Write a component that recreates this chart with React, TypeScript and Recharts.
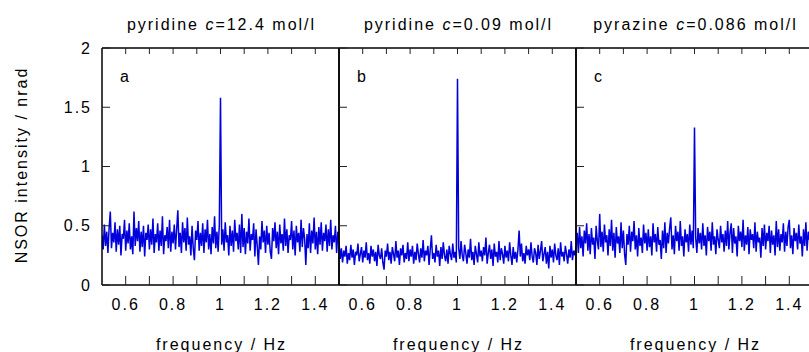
import React from "react";
import { LineChart, Line, XAxis, YAxis } from "recharts";

// NSOR spectra, intensity in nrad, sampled every 0.005 Hz from 0.5 Hz
const FREQ_START = 0.5;
const FREQ_STEP = 0.005;

const intensityA = [
    0.42, 0.30, 0.51, 0.33, 0.45, 0.27, 0.48, 0.62, 0.31, 0.44, 0.36, 0.53, 0.28, 0.47, 0.34, 0.50, 0.25, 0.43, 0.39, 0.55,
    0.29, 0.46, 0.35, 0.52, 0.30, 0.41, 0.26, 0.62, 0.33, 0.48, 0.37, 0.54, 0.28, 0.45, 0.32, 0.50, 0.24, 0.44, 0.38, 0.51,
    0.30, 0.47, 0.34, 0.56, 0.27, 0.43, 0.36, 0.52, 0.29, 0.46, 0.33, 0.58, 0.26, 0.42, 0.37, 0.49, 0.31, 0.55, 0.28, 0.45,
    0.35, 0.51, 0.30, 0.47, 0.63, 0.32, 0.44, 0.27, 0.53, 0.36, 0.48, 0.29, 0.57, 0.34, 0.41, 0.25, 0.50, 0.31, 0.21, 0.46,
    0.38, 0.54, 0.29, 0.44, 0.33, 0.52, 0.27, 0.47, 0.36, 0.55, 0.30, 0.43, 0.26, 0.49, 0.35, 0.58, 0.31, 0.45, 0.28, 0.51,
    1.58,
    0.34, 0.47, 0.29, 0.53, 0.36, 0.42, 0.25, 0.50, 0.33, 0.46, 0.28, 0.55, 0.37, 0.44, 0.30, 0.51, 0.27, 0.60, 0.32, 0.48,
    0.26, 0.45, 0.35, 0.56, 0.29, 0.43, 0.38, 0.52, 0.24, 0.47, 0.33, 0.17, 0.41, 0.30, 0.54, 0.36, 0.46, 0.27, 0.50, 0.34,
    0.44, 0.28, 0.22, 0.48, 0.37, 0.53, 0.31, 0.45, 0.26, 0.51, 0.35, 0.43, 0.29, 0.56, 0.33, 0.47, 0.27, 0.42, 0.38, 0.54,
    0.30, 0.46, 0.25, 0.50, 0.36, 0.44, 0.28, 0.55, 0.32, 0.48, 0.39, 0.17, 0.43, 0.31, 0.52, 0.27, 0.46, 0.35, 0.57, 0.30,
    0.45, 0.26, 0.49, 0.34, 0.53, 0.29, 0.44, 0.37, 0.51, 0.28, 0.47, 0.33, 0.55, 0.30, 0.42, 0.36, 0.50, 0.27, 0.45, 0.39,
];

const intensityB = [
    0.36, 0.22, 0.31, 0.19, 0.29, 0.24, 0.33, 0.18, 0.27, 0.21, 0.34, 0.23, 0.30, 0.17, 0.28, 0.25, 0.35, 0.20, 0.26, 0.32,
    0.19, 0.29, 0.23, 0.36, 0.21, 0.27, 0.18, 0.33, 0.24, 0.30, 0.20, 0.28, 0.16, 0.34, 0.25, 0.22, 0.31, 0.19, 0.13, 0.29,
    0.24, 0.35, 0.21, 0.28, 0.18, 0.32, 0.26, 0.20, 0.37, 0.23, 0.29, 0.17, 0.31, 0.25, 0.34, 0.19, 0.27, 0.22, 0.36, 0.20,
    0.30, 0.24, 0.33, 0.18, 0.28, 0.21, 0.35, 0.26, 0.19, 0.31, 0.23, 0.38, 0.20, 0.29, 0.25, 0.33, 0.17, 0.30, 0.42, 0.22,
    0.27, 0.19, 0.34, 0.24, 0.29, 0.16, 0.32, 0.22, 0.36, 0.25, 0.20, 0.30, 0.18, 0.33, 0.26, 0.21, 0.35, 0.23, 0.28, 0.19,
    1.74,
    0.31, 0.22, 0.37, 0.25, 0.20, 0.34, 0.27, 0.18, 0.30, 0.23, 0.39, 0.21, 0.28, 0.17, 0.33, 0.26, 0.19, 0.36, 0.24, 0.29,
    0.20, 0.32, 0.25, 0.40, 0.18, 0.27, 0.34, 0.22, 0.30, 0.16, 0.35, 0.24, 0.28, 0.19, 0.37, 0.21, 0.31, 0.26, 0.18, 0.33,
    0.23, 0.29, 0.20, 0.36, 0.25, 0.17, 0.32, 0.22, 0.28, 0.19, 0.30, 0.46, 0.24, 0.35, 0.20, 0.27, 0.18, 0.33, 0.25, 0.30,
    0.21, 0.36, 0.24, 0.19, 0.31, 0.27, 0.17, 0.34, 0.22, 0.29, 0.37, 0.20, 0.26, 0.32, 0.18, 0.28, 0.14, 0.33, 0.23, 0.30,
    0.19, 0.35, 0.25, 0.21, 0.31, 0.17, 0.36, 0.24, 0.28, 0.20, 0.33, 0.26, 0.18, 0.30, 0.23, 0.37, 0.21, 0.29, 0.25, 0.32,
];

const intensityC = [
    0.33, 0.44, 0.27, 0.49, 0.31, 0.41, 0.24, 0.46, 0.35, 0.52, 0.29, 0.43, 0.26, 0.48, 0.34, 0.40, 0.22, 0.50, 0.37, 0.30,
    0.60, 0.32, 0.45, 0.28, 0.51, 0.36, 0.42, 0.25, 0.47, 0.33, 0.55, 0.29, 0.44, 0.23, 0.49, 0.35, 0.41, 0.27, 0.53, 0.31,
    0.46, 0.26, 0.17, 0.43, 0.34, 0.50, 0.28, 0.45, 0.37, 0.54, 0.30, 0.42, 0.24, 0.48, 0.33, 0.40, 0.27, 0.51, 0.35, 0.44,
    0.29, 0.47, 0.32, 0.41, 0.25, 0.52, 0.36, 0.43, 0.28, 0.49, 0.34, 0.38, 0.22, 0.46, 0.31, 0.53, 0.27, 0.44, 0.35, 0.48,
    0.57, 0.30, 0.42, 0.26, 0.50, 0.37, 0.45, 0.29, 0.54, 0.33, 0.41, 0.24, 0.47, 0.36, 0.43, 0.28, 0.51, 0.34, 0.46, 0.31,
    1.33,
    0.40, 0.27, 0.48, 0.35, 0.44, 0.30, 0.52, 0.33, 0.42, 0.25, 0.49, 0.37, 0.45, 0.29, 0.53, 0.34, 0.41, 0.26, 0.47, 0.38,
    0.31, 0.50, 0.36, 0.43, 0.28, 0.46, 0.33, 0.54, 0.30, 0.44, 0.52, 0.27, 0.48, 0.35, 0.41, 0.24, 0.50, 0.37, 0.45, 0.32,
    0.55, 0.29, 0.42, 0.34, 0.49, 0.26, 0.47, 0.38, 0.43, 0.31, 0.53, 0.28, 0.45, 0.36, 0.40, 0.23, 0.48, 0.33, 0.51, 0.30,
    0.44, 0.37, 0.50, 0.27, 0.46, 0.34, 0.42, 0.25, 0.54, 0.32, 0.47, 0.29, 0.43, 0.36, 0.52, 0.28, 0.45, 0.33, 0.49, 0.55,
    0.31, 0.42, 0.26, 0.48, 0.37, 0.44, 0.30, 0.51, 0.35, 0.41, 0.24, 0.47, 0.33, 0.53, 0.29, 0.45, 0.38, 0.43, 0.27, 0.50,
];

const panelTitles = [
    { name: "pyridine", conc: "=12.4 mol/l" },
    { name: "pyridine", conc: "=0.09 mol/l" },
    { name: "pyrazine", conc: "=0.086 mol/l" },
];
const panelLetters = ["a", "b", "c"];
const xTicks = [0.6, 0.7, 0.8, 0.9, 1.0, 1.1, 1.2, 1.3, 1.4];
const xTickLabels = ["0.6", "0.8", "1", "1.2", "1.4"];
const yTicks = [0, 0.5, 1, 1.5, 2];

const PLOT_W = 237;
const PLOT_TOP = 48;
const PLOT_BOTTOM = 285;
const SIDE = 40;
const H = 352;
const panelLefts = [102, 339, 576];
const BLUE = "#0000dd";

const toRows = (vals: number[]) =>
    vals.map((v, i) => ({ f: +(FREQ_START + i * FREQ_STEP).toFixed(3), v }));

const series = [intensityA, intensityB, intensityC].map(toRows);

const fmtX = (v: number) => {
    const s = String(+v.toFixed(1));
    return xTickLabels.includes(s) ? s : "";
};

const frame = { stroke: "#000", strokeWidth: 1.5 };
const tickStroke = { stroke: "#222", strokeWidth: 1 };

function Panel({ idx }: { idx: number }) {
    const left = panelLefts[idx];
    return (
        <div style={{ position: "absolute", left: left - SIDE, top: 0 }}>
            <LineChart
                width={PLOT_W + 2 * SIDE}
                height={H}
                data={series[idx]}
                margin={{ top: PLOT_TOP - 1, right: SIDE - 1, bottom: H - PLOT_BOTTOM - 1, left: SIDE - 1 }}
            >
                <XAxis
                    xAxisId="b"
                    dataKey="f"
                    type="number"
                    domain={[0.5, 1.5]}
                    allowDataOverflow
                    ticks={xTicks}
                    tickFormatter={fmtX}
                    height={1}
                    tickSize={-9}
                    tickMargin={23}
                    axisLine={frame}
                    tickLine={tickStroke}
                    tick={{ fill: "#000", fontSize: 16 }}
                    interval={0}
                />
                <XAxis
                    xAxisId="t"
                    orientation="top"
                    dataKey="f"
                    type="number"
                    domain={[0.5, 1.5]}
                    allowDataOverflow
                    ticks={xTicks}
                    tickFormatter={() => ""}
                    height={1}
                    tickSize={-6}
                    axisLine={frame}
                    tickLine={tickStroke}
                    interval={0}
                />
                <YAxis
                    yAxisId="l"
                    type="number"
                    domain={[0, 2]}
                    ticks={yTicks}
                    width={1}
                    tickSize={-8}
                    tickMargin={18}
                    tickFormatter={idx === 0 ? (v: number) => String(v) : () => ""}
                    axisLine={frame}
                    tickLine={tickStroke}
                    tick={{ fill: "#000", fontSize: 16 }}
                    interval={0}
                />
                <YAxis
                    yAxisId="r"
                    orientation="right"
                    type="number"
                    domain={[0, 2]}
                    width={1}
                    tick={false}
                    tickLine={false}
                    axisLine={frame}
                />
                <Line
                    xAxisId="b"
                    yAxisId="l"
                    type="linear"
                    dataKey="v"
                    stroke={BLUE}
                    strokeWidth={1.5}
                    strokeLinejoin="bevel"
                    dot={false}
                    isAnimationActive={false}
                />
            </LineChart>
        </div>
    );
}

export default function App() {
    return (
        <div
            style={{
                position: "absolute",
                left: 0,
                top: 0,
                width: 809,
                height: H,
                overflow: "hidden",
                background: "#fff",
                fontFamily: "'Liberation Sans', Arial, sans-serif",
                letterSpacing: "2px",
            }}
        >
            {[0, 1, 2].map((i) => (
                <Panel key={i} idx={i} />
            ))}
            <svg
                width={809}
                height={H}
                style={{ position: "absolute", left: 0, top: 0, pointerEvents: "none" }}
                fontSize={16}
                fill="#000"
            >
                {panelLefts.map((l, i) => (
                    <g key={i}>
                        <text x={l + PLOT_W / 2 + 1} y={29.5} textAnchor="middle">
                            {panelTitles[i].name} <tspan fontStyle="italic">c</tspan>
                            {panelTitles[i].conc}
                        </text>
                        <text x={l + PLOT_W / 2 + 1} y={350} textAnchor="middle">
                            frequency / Hz
                        </text>
                        <text x={l + 18} y={82}>
                            {panelLetters[i]}
                        </text>
                    </g>
                ))}
                <text transform="translate(27,165) rotate(-90)" textAnchor="middle">
                    NSOR intensity / nrad
                </text>
            </svg>
        </div>
    );
}
